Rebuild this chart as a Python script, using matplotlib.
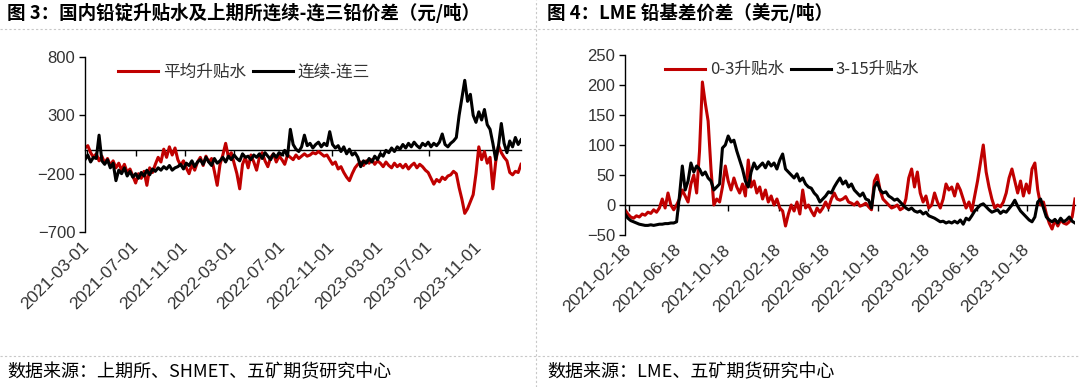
import numpy as np
import pandas as pd
import matplotlib
matplotlib.use('Agg')
import matplotlib.pyplot as plt
import matplotlib.dates as mdates
from matplotlib.lines import Line2D

plt.rcParams['font.family'] = ['Liberation Sans', 'Noto Sans CJK SC']
cjk = ['Noto Sans CJK SC', 'DejaVu Sans']

# ---- Figure 3 data (weekly readings, yuan/ton) ----
left_start = '2021-02-24'
spread_c1_c3 = [
    -80, -40, -100, -60, -70, 130, -90, -120, -80, -150,
    -110, -260, -170, -200, -150, -220, -180, -230, -200, -240,
    -190, -220, -170, -210, -160, -180, -150, -170, -140, -160,
    -130, -170, -150, -140, -120, -160, -110, -130, -90, -140,
    -100, -80, -120, -60, -100, -130, -70, -110, -90, -60,
    -100, -50, -80, -40, -70, -90, -30, -60, -50, -80,
    -40, -60, -30, -70, -20, -50, -80, -30, -60, -20,
    -40, 0, -50, 180, 50, 10, -10, 30, 130, 40,
    60, 20, 50, 70, 30, 60, 40, 160, 50, 20,
    40, -10, 30, -30, 10, -40, -20, -60, -140, -90,
    -110, -70, -100, -50, -80, -30, -50, 0, -20, 20,
    -10, 30, 10, 50, 20, 60, 30, 70, 40, 20,
    60, 40, 70, 30, 60, 40, 70, 140, 50, 30,
    60, 80, 110, 300, 450, 600, 420, 480, 300, 240,
    330, 260, 350, 220, 180, 60, -80, 40, 230, 60,
    -20, 80, 30, 110, 50, 90,
]
avg_premium = [
    20, 40, -20, -60, -30, -90, -50, -110, -70, -130,
    -90, -150, -110, -170, -120, -190, -160, -220, -280, -200,
    -240, -180, -300, -150, -190, -120, -60, -100, 10, -60,
    30, -40, 20, -80, -130, -90, -150, -200, -120, -170,
    -100, -60, -130, -50, -100, -70, -180, -300, -120, -40,
    60, -60, -20, -110, -200, -330, -120, -60, -150, -40,
    -100, -170, -60, -20, -90, -140, -60, -30, -100, -50,
    -80, -120, -40, -60, -80, -40, -70, -50, -30, -50,
    -40, -20, -30, -10, -30, -50, -40, -80, -120, -100,
    -160, -140, -190, -230, -260, -200, -150, -120, -100, -130,
    -90, -110, -80, -120, -90, -110, -140, -100, -130, -150,
    -110, -140, -120, -150, -120, -160, -130, -110, -150, -120,
    -140, -170, -190, -240, -290, -250, -270, -230, -250, -220,
    -210, -180, -200, -320, -420, -540, -500, -440, -380, -200,
    30, -80, -10, -110, -60, -330, -100, 40, -20, -60,
    -90, -190, -210, -180, -190, -120,
]
left_tick_labels = ['2021-03-01', '2021-07-01', '2021-11-01', '2022-03-01', '2022-07-01',
                    '2022-11-01', '2023-03-01', '2023-07-01', '2023-11-01']

# ---- Figure 4 data (weekly readings, USD/ton) ----
right_start = '2021-02-08'
lme_0_3 = [
    -8, -15, -20, -22, -18, -20, -15, -17, -12, -14,
    -8, -12, -5, 10, -5, 20, 0, -8, 0, 10,
    25, 15, 5, 35, 50, 20, 90, 205, 170, 140,
    60, 0, 10, 5, 30, 65, 40, 25, 45, 30,
    20, 35, 15, 75, 30, 40, 20, 30, 10, 25,
    5, 15, 0, 10, -5, -10, -35, -15, 0, -10,
    5, -15, 25, -5, 0, -10, -18, -5, -12, -5,
    5, -5, 10, 20, 10, 8, 10, 14, 5, 3,
    0, 5, -2, 0, 3, -3, -8, 40, 50, 25,
    10, 5, 0, -5, -3, 0, -8, -5, 10, 45,
    60, 30, 55, 20, 5, 15, -5, 0, 20, 5,
    -5, 10, 35, 25, 30, 15, 35, 25, 10, -5,
    5, -10, 15, 40, 70, 100, 55, 30, 10, -5,
    0, -3, 5, 20, 45, 60, 40, 20, 40, 15,
    35, 20, 60, 70, 25, 0, 5, -15, -30, -40,
    -25, -35, -25, -30, -32, -28, -20, 10,
]
lme_3_15 = [
    -15, -22, -26, -28, -30, -32, -33, -34, -34, -33,
    -34, -33, -32, -32, -31, -31, -30, -30, -28, 15,
    65, 25, 40, 70, 55, 65, 60, 50, 55, 45,
    40, 25, 30, 35, 95, 100, 115, 105, 108, 90,
    75, 60, 40, 30, 55, 70, 60, 65, 70, 62,
    72, 65, 70, 60, 75, 85, 60, 55, 50, 45,
    52, 40, 45, 35, 30, 28, 20, 15, 5, 10,
    15, 22, 20, 30, 38, 45, 35, 40, 30, 35,
    25, 20, 15, 20, 10, 8, -5, 30, 38, 25,
    20, 22, 15, 12, 8, 10, 5, 0, -5, -8,
    -5, -10, -12, -10, -15, -12, -18, -20, -22, -25,
    -28, -27, -30, -28, -30, -27, -30, -25, -32, -22,
    -25, -18, -10, -5, 0, 2, -3, -8, -12, -10,
    -8, -14, -10, -12, -6, 0, 8, -2, -10, -15,
    -20, -25, -28, -20, 5, 10, -5, -20, -25, -28,
    -24, -30, -22, -28, -25, -20, -27, -30,
]
right_tick_labels = ['2021-02-18', '2021-06-18', '2021-10-18', '2022-02-18', '2022-06-18',
                     '2022-10-18', '2023-02-18', '2023-06-18', '2023-10-18']

left_dates = pd.date_range(left_start, periods=len(avg_premium), freq='7D')
right_dates = pd.date_range(right_start, periods=len(lme_0_3), freq='7D')

RED = '#C00000'
TXT = '#333333'
LW = 2.2

fig = plt.figure(figsize=(10.8, 3.87), dpi=100)
ax1 = fig.add_axes([85 / 1080, 1 - 232 / 387, 436 / 1080, 175 / 387])
ax2 = fig.add_axes([625 / 1080, 1 - 235 / 387, 450 / 1080, 180 / 387])


def style_axes(ax, dates, tick_labels, ylim, yticks):
    ticks = mdates.date2num(pd.to_datetime(tick_labels))
    ax.set_xlim(dates[0], dates[-1])
    ax.set_ylim(*ylim)
    ax.set_yticks(yticks)
    ax.spines['top'].set_visible(False)
    ax.spines['right'].set_visible(False)
    ax.spines['bottom'].set_position(('data', 0))
    ax.spines['bottom'].set_zorder(1)
    ax.spines['bottom'].set_linewidth(1)
    ax.spines['left'].set_linewidth(1)
    ax.set_xticks(ticks)
    ax.tick_params(axis='x', direction='out', length=4, width=1, labelbottom=False)
    ax.tick_params(axis='y', direction='out', length=4, width=1, labelsize=12, labelcolor=TXT, pad=3)
    sec = ax.secondary_xaxis('bottom')
    sec.set_xticks(ticks)
    sec.set_xticklabels(tick_labels, rotation=45, ha='right', va='center',
                        rotation_mode='anchor', fontsize=12.5, color=TXT)
    sec.spines['bottom'].set_visible(False)
    sec.tick_params(length=0, pad=9)


ax1.plot(left_dates, avg_premium, color=RED, lw=LW, label='平均升贴水', zorder=2)
ax1.plot(left_dates, spread_c1_c3, color='black', lw=LW, label='连续-连三', zorder=3)
style_axes(ax1, left_dates, left_tick_labels, (-700, 800), [-700, -200, 300, 800])

ax2.plot(right_dates, lme_0_3, color=RED, lw=LW, label='0-3升贴水', zorder=2)
ax2.plot(right_dates, lme_3_15, color='black', lw=LW, label='3-15升贴水', zorder=3)
style_axes(ax2, right_dates, right_tick_labels, (-50, 250), [-50, 0, 50, 100, 150, 200, 250])

for ax, anchor in [(ax1, (0.076, 0.914)), (ax2, (0.089, 0.917))]:
    ax.legend(loc='center left', bbox_to_anchor=anchor, ncol=2, frameon=False,
              prop={'family': cjk, 'size': 12}, handlelength=2.4, handletextpad=0.3,
              columnspacing=0.4, borderaxespad=0, borderpad=0, labelcolor=TXT)

# titles and sources
fig.text(7 / 1080, 1 - 13 / 387, '图 3：国内铅锭升贴水及上期所连续-连三铅价差（元/吨）',
         family=cjk, fontsize=13.3, fontweight='bold', va='center', ha='left')
fig.text(547 / 1080, 1 - 13 / 387, '图 4：LME 铅基差价差（美元/吨）',
         family=cjk, fontsize=13.3, fontweight='bold', va='center', ha='left')
fig.text(7 / 1080, 1 - 372 / 387, '数据来源：上期所、SHMET、五矿期货研究中心',
         family=cjk, fontsize=13, va='center', ha='left')
fig.text(547 / 1080, 1 - 372 / 387, '数据来源：LME、五矿期货研究中心',
         family=cjk, fontsize=13, va='center', ha='left')

# dotted frame lines
sep = dict(transform=fig.transFigure, color='#c8c8c8', lw=0.8, ls=(0, (2, 2)))
fig.add_artist(Line2D([0, 1], [1 - 29 / 387] * 2, **sep))
fig.add_artist(Line2D([0, 1], [1 - 356 / 387] * 2, **sep))
fig.add_artist(Line2D([536 / 1080] * 2, [0, 1], **sep))

fig.savefig('out.png', dpi=100, facecolor='white')
